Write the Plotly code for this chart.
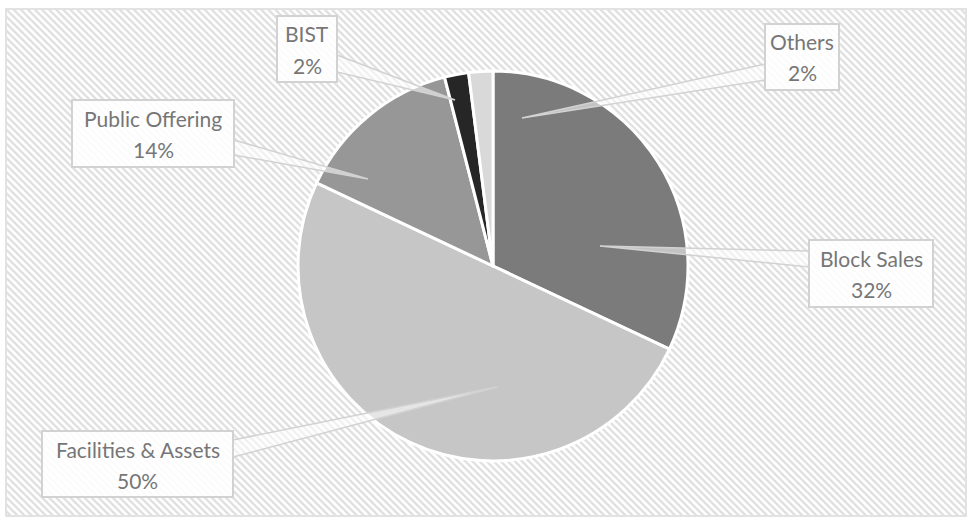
import plotly.graph_objects as go

# ---- data ----
labels = ["Block Sales", "Facilities & Assets", "Public Offering", "BIST", "Others"]
shares = [32, 50, 14, 2, 2]
colors = ["#7b7b7b", "#c6c6c6", "#979797", "#262626", "#d9d9d9"]

W, H = 971, 523


def px(x):
    return x / W


def py(y):
    return 1 - y / H


# callout geometry in pixels: box (x0, y0, x1, y1), wedge base points, wedge tip
callouts = {
    "Block Sales": dict(box=(809, 240, 933, 307), base=((809, 251), (809, 267)), tip=(600, 246)),
    "Facilities & Assets": dict(box=(42, 431, 233, 497), base=((233, 440), (233, 457)), tip=(497, 387)),
    "Public Offering": dict(box=(72, 100, 234, 167), base=((234, 140), (234, 155)), tip=(368, 179)),
    "BIST": dict(box=(277, 16, 337, 82), base=((337, 55), (337, 72)), tip=(455, 100)),
    "Others": dict(box=(765, 24, 839, 90), base=((765, 64), (765, 80)), tip=(522, 118)),
}

fig = go.Figure()

# hatched chart-area background
fig.add_trace(go.Scatter(
    x=[0, 1, 1, 0, 0], y=[0, 0, 1, 1, 0],
    mode="lines", fill="toself", line=dict(width=0),
    fillcolor="white",
    fillpattern=dict(shape="\\", size=5, solidity=0.45, fgcolor="#dedede",
                     bgcolor="white", fillmode="replace"),
    hoverinfo="skip", showlegend=False,
))

fig.add_trace(go.Pie(
    labels=labels, values=shares, sort=False, direction="clockwise", rotation=0,
    marker=dict(colors=colors, line=dict(color="white", width=3)),
    textinfo="none", hoverinfo="label+percent", showlegend=False,
    domain=dict(x=[px(298), px(688)], y=[py(461), py(71)]),
))

shapes = []
annotations = []
for lab, val in zip(labels, shares):
    c = callouts[lab]
    (bx0, by0), (bx1, by1) = c["base"]
    tx, ty = c["tip"]
    shapes.append(dict(
        type="path", xref="paper", yref="paper",
        path=f"M {px(bx0)},{py(by0)} L {px(tx)},{py(ty)} L {px(bx1)},{py(by1)} Z",
        fillcolor="rgba(255,255,255,0.55)", line=dict(color="#d2d2d2", width=1.5),
    ))
for lab, val in zip(labels, shares):
    c = callouts[lab]
    x0, y0, x1, y1 = c["box"]
    shapes.append(dict(
        type="rect", xref="paper", yref="paper",
        x0=px(x0), x1=px(x1), y0=py(y1), y1=py(y0),
        fillcolor="rgba(255,255,255,0.88)", line=dict(color="#d2d2d2", width=2),
    ))
    cx = (x0 + x1) / 2
    cy = (y0 + y1) / 2
    annotations.append(dict(x=px(cx), y=py(cy - 15), xref="paper", yref="paper",
                            text=lab, showarrow=False, xanchor="center", yanchor="middle",
                            font=dict(family="Lato", size=21, color="#767676")))
    annotations.append(dict(x=px(cx), y=py(cy + 16), xref="paper", yref="paper",
                            text=f"{val}%", showarrow=False, xanchor="center", yanchor="middle",
                            font=dict(family="Lato", size=21, color="#767676")))

# outer chart border
shapes.append(dict(type="rect", xref="paper", yref="paper",
                   x0=px(6), x1=px(966), y0=py(516), y1=py(9),
                   line=dict(color="#d9d9d9", width=1.5), layer="above"))

fig.update_layout(
    width=W, height=H, autosize=False,
    margin=dict(l=0, r=0, t=0, b=0),
    paper_bgcolor="white", plot_bgcolor="rgba(0,0,0,0)",
    xaxis=dict(domain=[px(7), px(965)], range=[0, 1], visible=False, fixedrange=True),
    yaxis=dict(domain=[py(515), py(10)], range=[0, 1], visible=False, fixedrange=True),
    shapes=shapes, annotations=annotations,
)

fig.write_html("out.html", config={"displayModeBar": False},
               post_script="document.body.style.margin='0';document.body.style.overflow='hidden';")
